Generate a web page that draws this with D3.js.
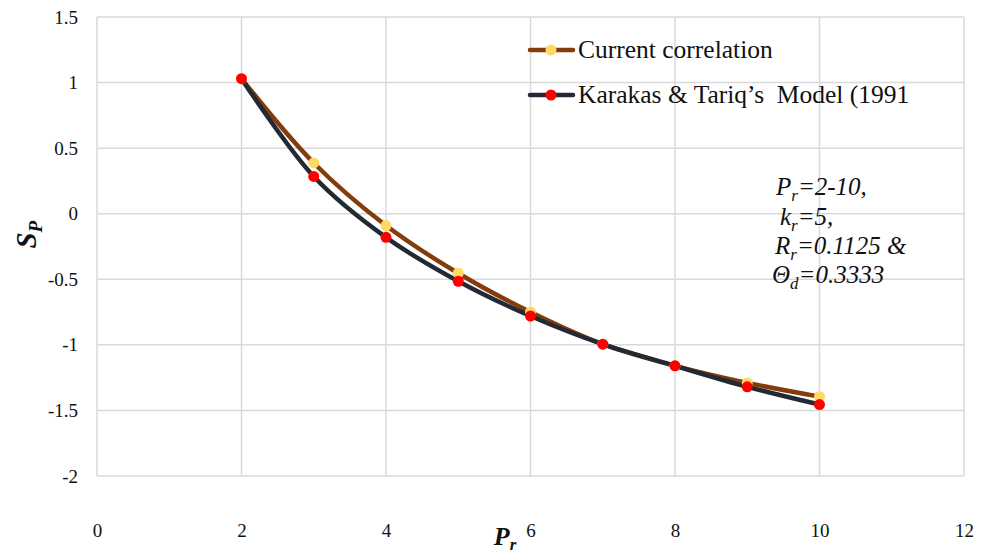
<!DOCTYPE html>
<html>
<head>
<meta charset="utf-8">
<script src="https://cdn.jsdelivr.net/npm/d3@7"></script>
<style>
  html, body { margin: 0; padding: 0; background: #fff; }
  svg { display: block; }
</style>
</head>
<body>
<svg id="chart" width="989" height="554" font-family="Liberation Serif"></svg>
<script>
// Reduced pressure values
const pr = [2, 3, 4, 5, 6, 7, 8, 9, 10];
// Skin factor S_P from the current correlation
const currentCorrelation = [1.03, 0.387, -0.09, -0.454, -0.75, -0.995, -1.16, -1.29, -1.395];
// Skin factor S_P from Karakas & Tariq's model
const karakasTariq = [1.03, 0.284, -0.18, -0.515, -0.78, -0.995, -1.16, -1.32, -1.455];
// Axis ticks
const xTicks = [0, 2, 4, 6, 8, 10, 12];
const yTicks = [1.5, 1, 0.5, 0, -0.5, -1, -1.5, -2];
const seriesNames = ["Current correlation", "Karakas & Tariq\u2019s  Model (1991"];

const SERIF = "Liberation Serif";

const svg = d3.select("#chart");
const margin = { left: 97, right: 25, top: 17, bottom: 78 };
const W = 989, H = 554;

const x = d3.scaleLinear().domain([0, 12]).range([margin.left, W - margin.right]);
const y = d3.scaleLinear().domain([-2, 1.5]).range([H - margin.bottom, margin.top]);

// Gridlines
const grid = svg.append("g");
grid.selectAll("line.h").data(yTicks).enter().append("line")
  .attr("x1", x(0)).attr("x2", x(12))
  .attr("y1", d => y(d)).attr("y2", d => y(d))
  .attr("stroke", "#d9d9d9").attr("stroke-width", 1.5);
grid.selectAll("line.v").data(xTicks).enter().append("line")
  .attr("x1", d => x(d)).attr("x2", d => x(d))
  .attr("y1", y(1.5)).attr("y2", y(-2))
  .attr("stroke", "#d9d9d9").attr("stroke-width", 1.5);

// Axes (labels only; lines come from the grid)
const xAxis = svg.append("g")
  .attr("transform", `translate(0,${y(-2)})`)
  .call(d3.axisBottom(x).tickValues(xTicks).tickSize(0).tickPadding(48).tickFormat(d => String(d)));
xAxis.select(".domain").remove();
xAxis.attr("font-family", SERIF).attr("font-size", 19);
xAxis.selectAll("text").style("font-family", SERIF).style("font-size", "19px").attr("fill", "#111");

const yAxis = svg.append("g")
  .attr("transform", `translate(${x(0)},0)`)
  .call(d3.axisLeft(y).tickValues(yTicks).tickSize(0).tickPadding(19).tickFormat(d => String(d)));
yAxis.select(".domain").remove();
yAxis.attr("font-family", SERIF).attr("font-size", 19);
yAxis.selectAll("text").style("font-family", SERIF).style("font-size", "19px").attr("fill", "#111");

// Axis titles
const xt = svg.append("text").attr("x", 505).attr("y", 545)
  .attr("text-anchor", "middle").attr("fill", "#111")
  .style("font-family", SERIF)
  .style("font-size", "26px").style("font-weight", "bold").style("font-style", "italic");
xt.append("tspan").text("P");
xt.append("tspan").attr("dy", 5).style("font-size", "17px").text("r");

const yt = svg.append("text")
  .attr("transform", `translate(36,${y(-0.16)}) rotate(-90)`)
  .attr("text-anchor", "middle").attr("fill", "#111")
  .style("font-family", SERIF)
  .style("font-size", "29px").style("font-weight", "bold").style("font-style", "italic");
yt.append("tspan").text("S");
yt.append("tspan").attr("dy", 6).style("font-size", "19px").text("P");

// Series
const series = [
  { name: seriesNames[0], values: currentCorrelation, line: "#843C0C", marker: "#FFD966" },
  { name: seriesNames[1], values: karakasTariq, line: "#222A35", marker: "#FF0000" }
];

const lineGen = d3.line()
  .x(d => x(d[0])).y(d => y(d[1]))
  .curve(d3.curveCatmullRom.alpha(0.5));

series.forEach(s => {
  const pts = pr.map((p, i) => [p, s.values[i]]);
  svg.append("path").datum(pts)
    .attr("d", lineGen)
    .attr("fill", "none").attr("stroke", s.line).attr("stroke-width", 4.5)
    .attr("stroke-linecap", "round").attr("stroke-linejoin", "round");
});
series.forEach(s => {
  const pts = pr.map((p, i) => [p, s.values[i]]);
  svg.append("g").selectAll("circle").data(pts).enter().append("circle")
    .attr("cx", d => x(d[0])).attr("cy", d => y(d[1]))
    .attr("r", 5.5).attr("fill", s.marker);
});

// Legend
const legend = svg.append("g");
series.forEach((s, i) => {
  const ly = 50 + i * 45;
  legend.append("line").attr("x1", 530).attr("x2", 573).attr("y1", ly).attr("y2", ly)
    .attr("stroke", s.line).attr("stroke-width", 4.5).attr("stroke-linecap", "round");
  legend.append("circle").attr("cx", 551).attr("cy", ly).attr("r", 5.5).attr("fill", s.marker);
  legend.append("text").attr("x", 578).attr("y", ly + 8).attr("fill", "#111")
    .style("font-family", SERIF).style("white-space", "pre")
    .style("font-size", "25.5px").text(s.name);
});

// Parameter annotation
const notes = [
  { x: 776, y: 195, main: "P", sub: "r", rest: "=2-10," },
  { x: 780, y: 225, main: "k", sub: "r", rest: "=5," },
  { x: 775, y: 254, main: "R", sub: "r", rest: "=0.1125 &" },
  { x: 772, y: 283, main: "\u0398", sub: "d", rest: "=0.3333" }
];
notes.forEach(n => {
  const t = svg.append("text").attr("x", n.x).attr("y", n.y).attr("fill", "#111")
    .style("font-family", SERIF)
    .style("font-size", "25px").style("font-style", "italic");
  t.append("tspan").text(n.main);
  t.append("tspan").attr("dy", 6).style("font-size", "17px").text(n.sub);
  t.append("tspan").attr("dy", -6).text(n.rest);
});
</script>
</body>
</html>
